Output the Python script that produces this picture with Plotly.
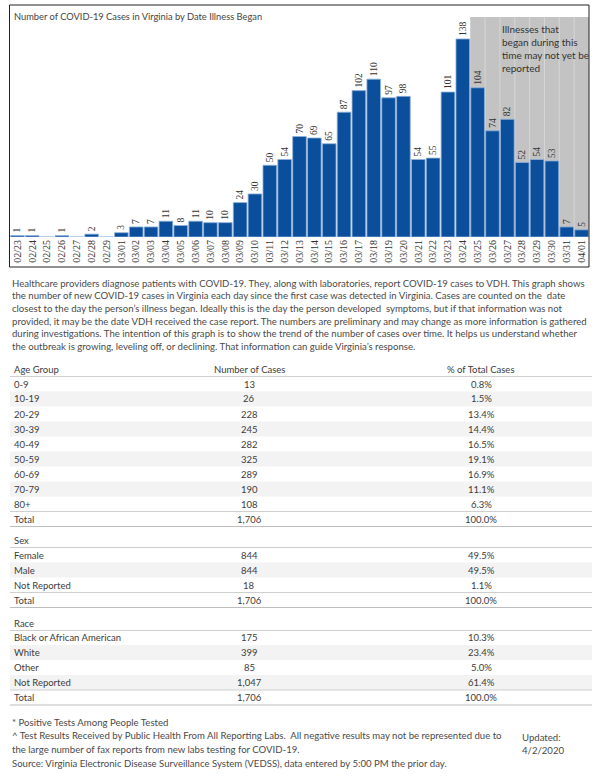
import plotly.graph_objects as go

# ---------------- data ----------------
dates = ["02/23", "02/24", "02/25", "02/26", "02/27", "02/28", "02/29",
         "03/01", "03/02", "03/03", "03/04", "03/05", "03/06", "03/07", "03/08",
         "03/09", "03/10", "03/11", "03/12", "03/13", "03/14", "03/15", "03/16",
         "03/17", "03/18", "03/19", "03/20", "03/21", "03/22", "03/23", "03/24",
         "03/25", "03/26", "03/27", "03/28", "03/29", "03/30", "03/31", "04/01"]
cases = [1, 1, 0, 1, 0, 2, 0,
         3, 7, 7, 11, 8, 11, 10, 10,
         24, 30, 50, 54, 70, 69, 65, 87,
         102, 110, 97, 98, 54, 55, 101, 138,
         104, 74, 82, 52, 54, 53, 7, 5]
shade_start = "03/25"

age_groups = ["0-9", "10-19", "20-29", "30-39", "40-49", "50-59", "60-69", "70-79", "80+", "Total"]
age_cases = ["13", "26", "228", "245", "282", "325", "289", "190", "108", "1,706"]
age_pct = ["0.8%", "1.5%", "13.4%", "14.4%", "16.5%", "19.1%", "16.9%", "11.1%", "6.3%", "100.0%"]

sex_groups = ["Female", "Male", "Not Reported", "Total"]
sex_cases = ["844", "844", "18", "1,706"]
sex_pct = ["49.5%", "49.5%", "1.1%", "100.0%"]

race_groups = ["Black or African American", "White", "Other", "Not Reported", "Total"]
race_cases = ["175", "399", "85", "1,047", "1,706"]
race_pct = ["10.3%", "23.4%", "5.0%", "61.4%", "100.0%"]

title_text = "Number of COVID-19 Cases in Virginia by Date Illness Began"
note_text = "Illnesses that<br>began during this<br>time may not yet be<br>reported"
paragraph = [
    "Healthcare providers diagnose patients with COVID-19. They, along with laboratories, report COVID-19 cases to VDH. This graph shows",
    "the number of new COVID-19 cases in Virginia each day since the first case was detected in Virginia. Cases are counted on the  date",
    "closest to the day the person\u2019s illness began. Ideally this is the day the person developed  symptoms, but if that information was not",
    "provided, it may be the date VDH received the case report. The numbers are preliminary and may change as more information is gathered",
    "during investigations. The intention of this graph is to show the trend of the number of cases over time. It helps us understand whether",
    "the outbreak is growing, leveling off, or declining. That information can guide Virginia\u2019s response.",
]
footer = [
    "* Positive Tests Among People Tested",
    "^ Test Results Received by Public Health From All Reporting Labs.  All negative results may not be represented due to",
    "the large number of fax reports from new labs testing for COVID-19.",
    "Source: Virginia Electronic Disease Surveillance System (VEDSS), data entered by 5:00 PM the prior day.",
]
updated = ["Updated:", "4/2/2020"]

# ---------------- layout helpers ----------------
W, H = 600, 776
FONT = "Lato"
TXT = "#3c3c3c"


def px(x):
    return x / W


def py(y):
    return 1 - y / H


fig = go.Figure()
fig.add_trace(go.Bar(
    x=list(range(len(dates))), y=cases,
    text=[str(v) if v > 0 else "" for v in cases],
    textposition="outside", textangle=-90, constraintext="none", cliponaxis=False,
    textfont=dict(size=9.5, color="#333333", family="Liberation Serif"),
    marker=dict(color="#0b4f9c", line=dict(color="#8fb3dc", width=0.8)),
    hoverinfo="skip",
))

shapes = []
annotations = []

# grey "may not yet be reported" region
s_idx = dates.index(shade_start)
shapes.append(dict(type="rect", xref="x", yref="y domain", x0=s_idx - 0.5, x1=len(dates) - 0.5,
                   y0=0, y1=1, fillcolor="#c3c3c3", line=dict(width=0), layer="below"))
for i in range(s_idx, len(dates) - 1):
    shapes.append(dict(type="line", xref="x", yref="y domain", x0=i + 0.5, x1=i + 0.5,
                       y0=0, y1=1, line=dict(color="#d6d6d6", width=1), layer="below"))

# outer border of chart panel
shapes.append(dict(type="rect", xref="paper", yref="paper", x0=px(9.5), x1=px(589), y0=py(267), y1=py(5),
                   line=dict(color="#222222", width=1), fillcolor="rgba(0,0,0,0)"))

annotations.append(dict(x=px(12), y=py(16), xref="paper", yref="paper", text=title_text, showarrow=False,
                        xanchor="left", yanchor="middle", font=dict(size=9.3, color="#444444", family=FONT)))
annotations.append(dict(x=s_idx + 1.5, y=py(21), xref="x", yref="paper", text=note_text, showarrow=False,
                        xanchor="left", yanchor="top", align="left",
                        font=dict(size=10, color="#333333", family=FONT)))

# paragraph
for k, line in enumerate(paragraph):
    annotations.append(dict(x=px(10), y=py(283 + k * 12.7), xref="paper", yref="paper", text=line,
                            showarrow=False, xanchor="left", yanchor="middle",
                            font=dict(size=9.6, color="#4a4a4a", family=FONT)))

# tables
COL_NUM = 249
COL_PCT = 481
LX0, LX1 = 10, 592


def hline(y, color="#cfcfcf"):
    shapes.append(dict(type="line", xref="paper", yref="paper", x0=px(LX0), x1=px(LX1), y0=py(y), y1=py(y),
                       line=dict(color=color, width=1)))


def cell(x, y, text, anchor):
    annotations.append(dict(x=px(x), y=py(y), xref="paper", yref="paper", text=text, showarrow=False,
                            xanchor=anchor, yanchor="middle", font=dict(size=9.5, color=TXT, family=FONT)))


def table(header, headers_extra, groups, nums, pcts, y_head, y_first):
    cell(12, y_head, header, "left")
    if headers_extra:
        cell(COL_NUM, y_head, headers_extra[0], "center")
        cell(COL_PCT, y_head, headers_extra[1], "center")
    hline(y_head + 7.5)
    n = len(groups)
    for i in range(n):
        y = y_first + i * 15
        if i % 2 == 1 and i < n - 1:
            shapes.append(dict(type="rect", xref="paper", yref="paper", x0=px(LX0), x1=px(LX1),
                               y0=py(y + 7.5), y1=py(y - 7.5), fillcolor="#f3f3f3",
                               line=dict(width=0), layer="below"))
        if i == n - 1:
            hline(y - 7.5)
            hline(y + 7.5, "#bdbdbd")
        cell(12, y, groups[i], "left")
        cell(COL_NUM, y, nums[i], "center")
        cell(COL_PCT, y, pcts[i], "center")


table("Age Group", ["Number of Cases", "% of Total Cases"], age_groups, age_cases, age_pct, 369, 384)
table("Sex", None, sex_groups, sex_cases, sex_pct, 540, 555)
table("Race", None, race_groups, race_cases, race_pct, 623, 637.5)

# footer
for k, line in enumerate(footer):
    annotations.append(dict(x=px(10), y=py(722 + k * 13.7), xref="paper", yref="paper", text=line,
                            showarrow=False, xanchor="left", yanchor="middle",
                            font=dict(size=9.6, color="#4a4a4a", family=FONT)))
for k, line in enumerate(updated):
    annotations.append(dict(x=px(520), y=py(737 + k * 13.5), xref="paper", yref="paper", text=line,
                            showarrow=False, xanchor="left", yanchor="middle",
                            font=dict(size=9.6, color="#4a4a4a", family=FONT)))

fig.update_layout(
    width=W, height=H, margin=dict(l=0, r=0, t=0, b=0),
    paper_bgcolor="white", plot_bgcolor="white",
    showlegend=False, bargap=0.08,
    shapes=shapes, annotations=annotations,
    xaxis=dict(domain=[px(10), px(589)], range=[-0.5, len(dates) - 0.5],
               tickmode="array", tickvals=list(range(len(dates))), ticktext=dates,
               tickangle=-90, ticks="", showgrid=False, zeroline=False, showline=False,
               tickfont=dict(size=10, color="#333333", family="Liberation Serif")),
    yaxis=dict(domain=[py(237), py(17)], range=[0, 153.3], visible=False, showgrid=False, zeroline=False),
)

fig.write_html("out.html", config={"displayModeBar": False},
               post_script="document.body.style.margin='0';document.body.style.overflow='hidden';")
